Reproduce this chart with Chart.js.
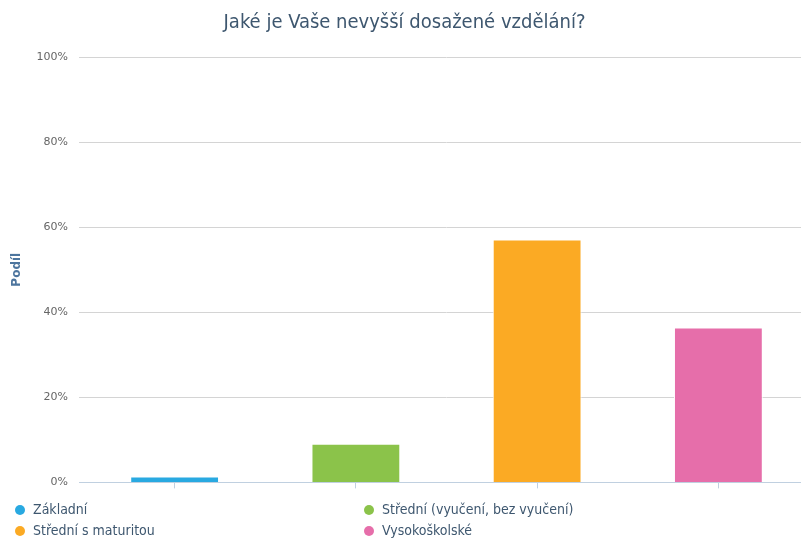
<!DOCTYPE html>
<html lang="cs">
<head>
<meta charset="utf-8">
<title>Nejvyšší dosažené vzdělání</title>
<script src="https://cdn.jsdelivr.net/npm/chart.js@4/dist/chart.umd.min.js"></script>
<style>
  html, body { margin: 0; padding: 0; background: #fff; overflow: hidden; }
  #wrap { position: relative; width: 818px; height: 540px; }
  #chart { display: block; }
  #legend {
    position: absolute; left: 15px; top: 499px;
    display: grid; grid-template-columns: 349px auto;
    font-family: "DejaVu Sans Condensed", "DejaVu Sans", sans-serif;
    font-size: 14px; color: #3e576f; line-height: 21px;
  }
  #legend .item { display: flex; align-items: center; white-space: nowrap; }
  #legend .dot { width: 10px; height: 10px; border-radius: 50%; margin-right: 8px; }
</style>
</head>
<body>
<div id="wrap">
  <canvas id="chart" width="818" height="500"></canvas>
  <div id="legend"></div>
</div>
<script>
const categories = ['Základní', 'Střední (vyučení, bez vyučení)', 'Střední s maturitou', 'Vysokoškolské'];
const shares = [1.4, 9.1, 57.1, 36.4];
const colors = ['#29a9e1', '#8bc34a', '#fbaa24', '#e66eaa'];
const yTicks = [0, 20, 40, 60, 80, 100];

const font = '"DejaVu Sans Condensed", "DejaVu Sans", sans-serif';

// one dataset per category so every bar gets its own legend entry
const datasets = categories.map((name, i) => ({
  label: name,
  data: categories.map((_, j) => (j === i ? shares[i] : null)),
  backgroundColor: colors[i],
  borderColor: '#ffffff',
  borderWidth: 1,
  grouped: false,
  barPercentage: 0.49,
  categoryPercentage: 1
}));

const chart = new Chart(document.getElementById('chart'), {
  type: 'bar',
  data: { labels: categories, datasets },
  options: {
    responsive: false,
    animation: false,
    layout: { padding: { left: 0, right: 9, top: 0, bottom: 3 } },
    plugins: {
      legend: { display: false },
      tooltip: { enabled: false },
      title: {
        display: true,
        text: 'Jaké je Vaše nevyšší dosažené vzdělání?',
        color: '#3e576f',
        font: { family: font, size: 20, weight: 'normal' },
        padding: { top: 11, bottom: 22 }
      }
    },
    scales: {
      x: {
        ticks: { display: false },
        grid: {
          display: true,
          offset: false,
          drawOnChartArea: false,
          drawTicks: true,
          tickLength: 6,
          color: '#c0d0e0'
        },
        border: { display: true, color: '#c0d0e0' }
      },
      y: {
        min: 0,
        max: 100,
        afterBuildTicks: scale => { scale.ticks = yTicks.map(v => ({ value: v })); },
        afterFit: scale => { scale.width = 84; },
        ticks: {
          color: '#666666',
          padding: 11,
          font: { family: '"DejaVu Sans", sans-serif', size: 11 },
          callback: v => v + '%'
        },
        grid: {
          tickLength: 5,
          color: ctx => (ctx.tick && ctx.tick.value === 0 ? '#c0d0e0' : '#d4d4d4')
        },
        border: { display: false },
        title: {
          display: true,
          text: 'Podíl',
          color: '#4d759e',
          font: { family: '"DejaVu Sans", sans-serif', size: 12, weight: 'bold' },
          padding: { top: 10, bottom: 0 }
        }
      }
    }
  }
});

// legend in two columns under the plot
const legend = document.getElementById('legend');
chart.data.datasets.forEach(ds => {
  const item = document.createElement('div');
  item.className = 'item';
  const dot = document.createElement('span');
  dot.className = 'dot';
  dot.style.background = ds.backgroundColor;
  const txt = document.createElement('span');
  txt.textContent = ds.label;
  item.appendChild(dot);
  item.appendChild(txt);
  legend.appendChild(item);
});
</script>
</body>
</html>
